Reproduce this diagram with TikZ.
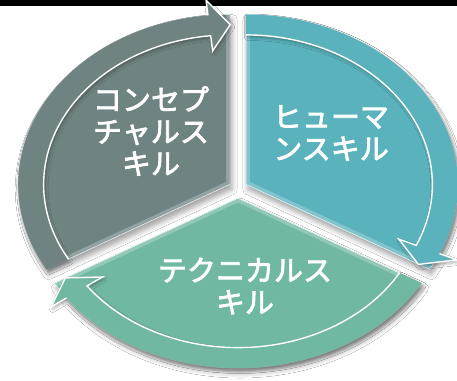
\documentclass[tikz,border=0pt]{standalone}
\usepackage{fontspec}
\newfontfamily\jpfont[FakeBold=2.5]{Noto Sans CJK JP}
\usepackage{xcolor}
\usetikzlibrary{calc, shadows.blur}

\definecolor{conceptgray}{HTML}{708383}
\definecolor{humanteal}{HTML}{5AB2BC}
\definecolor{technicalgreen}{HTML}{70B8A2}

% radii of the wheel (pt) and of the arrow band
\def\rx{212}\def\ry{170}
\pgfmathsetmacro{\rxi}{0.88*\rx}\pgfmathsetmacro{\ryi}{0.88*\ry}
\pgfmathsetmacro{\rxw}{1.09*\rx}\pgfmathsetmacro{\ryw}{1.09*\ry}
\pgfmathsetmacro{\rxv}{0.79*\rx}\pgfmathsetmacro{\ryv}{0.79*\ry}
\pgfmathsetmacro{\rxt}{0.94*\rx}\pgfmathsetmacro{\ryt}{0.94*\ry}

% #1 centre, #2 start angle, #3 end angle (clockwise), #4 colour
\newcommand{\skillsector}[4]{%
  \begin{scope}[shift={(#1)}]
    \pgfmathsetmacro{\hb}{#3+6}
    % body of the sector
    \fill[#4, blur shadow={shadow xshift=2pt, shadow yshift=-5pt, shadow opacity=35, shadow blur radius=5pt}]
      (0,0) -- (#3:\rx pt and \ry pt)
      arc[start angle=#3, end angle=#2, x radius=\rx pt, y radius=\ry pt] -- cycle;
    % bevel along the cut edges
    \begin{scope}
      \clip (0,0) -- (#3:\rx pt and \ry pt)
        arc[start angle=#3, end angle=#2, x radius=\rx pt, y radius=\ry pt] -- cycle;
      \draw[#4!60!white, line width=8pt, opacity=.6]
        (#3:\rx pt and \ry pt) -- (0,0) -- (#2:\rx pt and \ry pt);
      \draw[white, line width=.9pt]
        (#3:\rx pt and \ry pt) -- (0,0) -- (#2:\rx pt and \ry pt);
    \end{scope}
    \draw[white!70!#4, line width=.8pt]
      (#3:\rx pt and \ry pt) arc[start angle=#3, end angle=#2, x radius=\rx pt, y radius=\ry pt];
    % curved arrow on the rim
    \fill[#4, blur shadow={shadow xshift=1.5pt, shadow yshift=-2.5pt, shadow opacity=30, shadow blur radius=3pt}]
      (#2:\rx pt and \ry pt)
      arc[start angle=#2, end angle=\hb, x radius=\rx pt, y radius=\ry pt]
      -- (\hb:\rxw pt and \ryw pt) -- (#3:\rxt pt and \ryt pt)
      -- (\hb:\rxv pt and \ryv pt) -- (\hb:\rxi pt and \ryi pt)
      arc[start angle=\hb, end angle=#2, x radius=\rxi pt, y radius=\ryi pt] -- cycle;
    \draw[white, line width=1.4pt, line join=miter]
      (#2:\rxi pt and \ryi pt)
      arc[start angle=#2, end angle=\hb, x radius=\rxi pt, y radius=\ryi pt]
      -- (\hb:\rxv pt and \ryv pt) -- (#3:\rxt pt and \ryt pt)
      -- (\hb:\rxw pt and \ryw pt) -- (\hb:\rx pt and \ry pt);
  \end{scope}}

\begin{document}
\begin{tikzpicture}[x=1pt, y=1pt]
    \tikzset{skilltext/.style={text=white, align=center, font=\jpfont\fontsize{29}{32}\selectfont}}
    \useasboundingbox (0,0) rectangle (457,380);
    \fill[white] (0,0) rectangle (457,380);
    \fill[black] (0,374) rectangle (457,380);

    % centres of the three exploded sectors
    \coordinate (G) at (230.2,195.5);
    \coordinate (T) at (245.8,195.5);
    \coordinate (N) at (238,182);

    \skillsector{G}{210}{90}{conceptgray}
    \skillsector{T}{90}{-30}{humanteal}
    \skillsector{N}{330}{210}{technicalgreen}

    \node[skilltext] (concept)   at (151,249) {コンセプ\\チャルス\\キル};
    \node[skilltext] (human)     at (331,247) {ヒューマ\\ンスキル};
    \node[skilltext] (technical) at (245,94)  {テクニカルス\\キル};
\end{tikzpicture}
\end{document}
